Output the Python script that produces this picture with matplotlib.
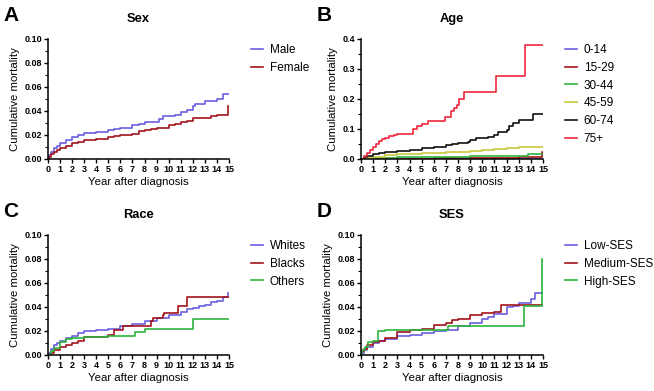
import matplotlib
matplotlib.use('Agg')
import matplotlib.pyplot as plt
from matplotlib.ticker import MultipleLocator

plt.rcParams['font.family'] = ['Liberation Sans', 'DejaVu Sans']

# ---- data: (year, cumulative mortality) step points ----
male_t = [0, 0.1, 0.25, 0.5, 0.75, 1, 1.5, 2, 2.5, 3, 4, 5, 5.5, 6, 7, 7.5, 8, 8.8, 9.2, 9.5, 10.5, 11, 11.5, 12, 12.2, 13, 14, 14.5, 15]
male_v = [0, 0.003, 0.006, 0.009, 0.011, 0.013, 0.016, 0.018, 0.020, 0.022, 0.0225, 0.024, 0.025, 0.026, 0.028, 0.029, 0.031, 0.031, 0.033, 0.036, 0.037, 0.039, 0.041, 0.044, 0.046, 0.048, 0.050, 0.054, 0.054]
female_t = [0, 0.1, 0.25, 0.5, 0.75, 1, 1.5, 2, 2.5, 3, 4, 5, 5.5, 6, 7, 7.5, 8, 8.5, 9, 10, 10.5, 11, 11.5, 12, 13, 13.5, 14, 14.9, 15]
female_v = [0, 0.002, 0.004, 0.006, 0.0075, 0.009, 0.011, 0.013, 0.014, 0.016, 0.017, 0.018, 0.019, 0.020, 0.021, 0.023, 0.024, 0.025, 0.026, 0.028, 0.029, 0.031, 0.032, 0.034, 0.034, 0.036, 0.037, 0.044, 0.044]

a0_t = [0, 15]
a0_v = [0.001, 0.001]
a15_t = [0, 2, 6, 10, 13, 14.9, 15]
a15_v = [0, 0.001, 0.002, 0.004, 0.005, 0.022, 0.022]
a30_t = [0, 1, 3, 6, 9, 12, 13.8, 15]
a30_v = [0, 0.003, 0.006, 0.008, 0.009, 0.010, 0.015, 0.015]
a45_t = [0, 0.5, 1, 2, 3, 4, 5, 6, 7, 8, 9, 10, 11, 12, 13, 15]
a45_v = [0, 0.004, 0.008, 0.013, 0.016, 0.018, 0.020, 0.021, 0.022, 0.024, 0.027, 0.030, 0.033, 0.038, 0.039, 0.039]
a60_t = [0, 0.25, 0.5, 1, 1.5, 2, 3, 4, 5, 6, 7, 7.5, 8, 8.8, 9, 9.5, 10.5, 11, 11.3, 12, 12.2, 12.5, 13, 14.2, 15]
a60_v = [0, 0.005, 0.01, 0.016, 0.019, 0.022, 0.028, 0.031, 0.035, 0.040, 0.046, 0.050, 0.053, 0.056, 0.062, 0.070, 0.072, 0.080, 0.090, 0.095, 0.110, 0.120, 0.130, 0.150, 0.150]
a75_t = [0, 0.25, 0.5, 0.75, 1, 1.25, 1.5, 1.75, 2, 2.3, 2.7, 3, 3.5, 4.2, 4.3, 4.6, 5, 5.5, 6.9, 7.4, 7.7, 7.9, 8.1, 8.5, 11.1, 13.5, 15]
a75_v = [0, 0.01, 0.02, 0.03, 0.04, 0.05, 0.06, 0.065, 0.07, 0.078, 0.08, 0.082, 0.083, 0.083, 0.10, 0.11, 0.115, 0.125, 0.14, 0.16, 0.17, 0.18, 0.20, 0.222, 0.278, 0.38, 0.38]

white_t = [0, 0.1, 0.25, 0.5, 0.75, 1, 1.5, 2, 2.5, 3, 4, 5, 6, 7, 8, 9, 10, 11, 11.5, 12, 12.5, 13, 13.5, 14, 14.5, 14.9, 15]
white_v = [0, 0.002, 0.005, 0.008, 0.010, 0.012, 0.014, 0.016, 0.018, 0.020, 0.021, 0.022, 0.024, 0.026, 0.028, 0.031, 0.033, 0.036, 0.038, 0.039, 0.041, 0.042, 0.044, 0.045, 0.048, 0.052, 0.052]
black_t = [0, 0.25, 0.5, 1, 1.5, 2, 2.5, 3, 4, 5, 5.5, 6.2, 8.1, 8.5, 8.7, 9.5, 9.6, 10.8, 11.5, 15]
black_v = [0, 0.002, 0.004, 0.007, 0.008, 0.010, 0.012, 0.015, 0.015, 0.017, 0.021, 0.024, 0.024, 0.028, 0.031, 0.033, 0.035, 0.041, 0.048, 0.048]
other_t = [0, 0.25, 0.5, 1, 1.5, 2, 3, 4.9, 7.2, 8, 12, 15]
other_v = [0, 0.003, 0.006, 0.011, 0.013, 0.014, 0.015, 0.016, 0.019, 0.022, 0.030, 0.030]

low_t = [0, 0.1, 0.25, 0.5, 1, 1.5, 2, 3, 4, 5, 6, 7, 8, 9, 10, 10.5, 11, 12, 12.5, 13, 14, 14.3, 15]
low_v = [0, 0.002, 0.004, 0.007, 0.010, 0.012, 0.013, 0.016, 0.017, 0.018, 0.020, 0.021, 0.024, 0.027, 0.030, 0.032, 0.034, 0.040, 0.041, 0.043, 0.047, 0.052, 0.052]
med_t = [0, 0.1, 0.25, 0.5, 1, 1.5, 2, 3, 4, 5, 6, 7, 7.5, 8, 9, 10, 11, 11.5, 15]
med_v = [0, 0.003, 0.005, 0.008, 0.011, 0.012, 0.014, 0.019, 0.021, 0.022, 0.025, 0.027, 0.029, 0.030, 0.033, 0.035, 0.036, 0.042, 0.042]
high_t = [0, 0.1, 0.3, 0.6, 1, 1.4, 2, 7.2, 13.45, 14.95, 15]
high_v = [0, 0.004, 0.007, 0.011, 0.012, 0.020, 0.021, 0.024, 0.041, 0.080, 0.080]

BLUE = '#6a5fe0'
DRED = '#a3141c'
GREEN = '#2db43c'
YELLOW = '#c8c83c'
BLACK = '#111111'
RED = '#f0283c'

panels = [
    ('A', 'Sex', [0.0734, 0.5934, 0.2768, 0.3069], 0.10, 0.02, 0.01,
     [(male_t, male_v, 'Male', BLUE), (female_t, female_v, 'Female', DRED)]),
    ('B', 'Age', [0.552, 0.5934, 0.2783, 0.3069], 0.4, 0.1, 0.05,
     [(a0_t, a0_v, '0-14', BLUE), (a15_t, a15_v, '15-29', DRED), (a30_t, a30_v, '30-44', GREEN),
      (a45_t, a45_v, '45-59', YELLOW), (a60_t, a60_v, '60-74', BLACK), (a75_t, a75_v, '75+', RED)]),
    ('C', 'Race', [0.0734, 0.0921, 0.2768, 0.3069], 0.10, 0.02, 0.01,
     [(white_t, white_v, 'Whites', BLUE), (black_t, black_v, 'Blacks', DRED), (other_t, other_v, 'Others', GREEN)]),
    ('D', 'SES', [0.552, 0.0921, 0.2783, 0.3069], 0.10, 0.02, 0.01,
     [(low_t, low_v, 'Low-SES', BLUE), (med_t, med_v, 'Medium-SES', DRED), (high_t, high_v, 'High-SES', GREEN)]),
]

fig = plt.figure(figsize=(6.54, 3.91), dpi=100)

for letter, title, rect, ymax, ymaj, ymin, series in panels:
    ax = fig.add_axes(rect)
    for t, v, lab, col in series:
        ax.plot(t, v, drawstyle='steps-post', color=col, lw=1.2, label=lab)
    ax.set_xlim(0, 15)
    ax.set_ylim(0, ymax)
    ax.xaxis.set_major_locator(MultipleLocator(1))
    ax.yaxis.set_major_locator(MultipleLocator(ymaj))
    ax.yaxis.set_minor_locator(MultipleLocator(ymin))
    if ymax < 0.2:
        ax.set_yticklabels(['%.2f' % y for y in ax.get_yticks()])
    else:
        ax.set_yticklabels(['%.1f' % y for y in ax.get_yticks()])
    for s in ['top', 'right']:
        ax.spines[s].set_visible(False)
    for s in ['left', 'bottom']:
        ax.spines[s].set_linewidth(1.1)
    ax.tick_params(which='major', length=3, width=1.0, labelsize=6.5, pad=1.5)
    ax.tick_params(which='minor', length=2, width=0.8)
    for lbl in ax.get_xticklabels() + ax.get_yticklabels():
        lbl.set_fontweight('bold')
    ax.set_xlabel('Year after diagnosis', fontsize=8.2, labelpad=2)
    ax.set_ylabel('Cumulative mortality', fontsize=8.2, labelpad=3)
    ax.set_title(title, fontsize=9.3, fontweight='bold', pad=12)
    ax.legend(loc='upper left', bbox_to_anchor=(1.12, 0.96), frameon=False, fontsize=8.5,
              handlelength=1.0, handletextpad=0.6, labelspacing=0.5, borderpad=0, borderaxespad=0)
    x0 = rect[0] * 654 - 37
    fig.text(x0 / 654, (rect[1] + rect[3]) + 23 / 391, letter, fontsize=15, fontweight='bold',
             ha='center', va='center')

fig.savefig('out.png', dpi=100)
